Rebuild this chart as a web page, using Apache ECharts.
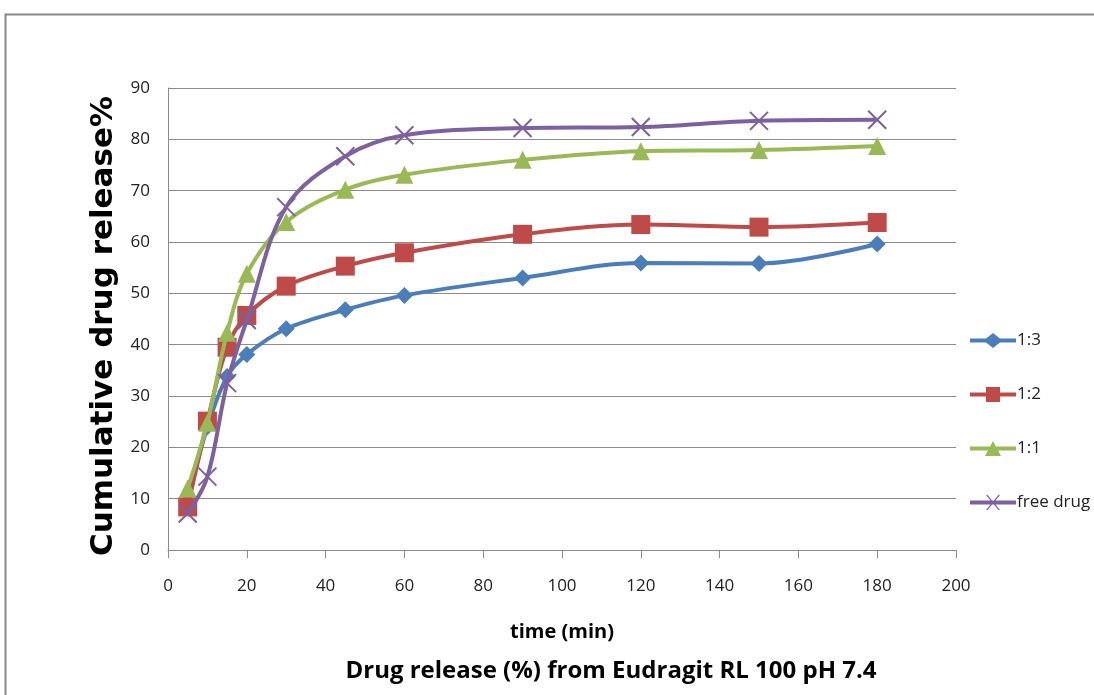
<!DOCTYPE html>
<html><head><meta charset="utf-8">
<script src="https://cdn.jsdelivr.net/npm/echarts@6/dist/echarts.min.js"></script>
<style>html,body{margin:0;padding:0;background:#fff}#c{width:1094px;height:695px}</style>
</head><body><div id="c"></div>
<script>
const times = [5, 10, 15, 20, 30, 45, 60, 90, 120, 150, 180];
const seriesNames = ['1:3', '1:2', '1:1', 'free drug'];
const r13 = [9.5, 24.0, 33.8, 38.1, 43.1, 46.8, 49.6, 53.0, 55.9, 55.8, 59.6];
const r12 = [8.4, 25.1, 39.5, 45.7, 51.4, 55.3, 57.9, 61.5, 63.4, 62.9, 63.8];
const r11 = [12.0, 24.8, 42.3, 53.8, 63.9, 70.2, 73.1, 76.0, 77.7, 77.9, 78.7];
const rFree = [7.1, 14.3, 32.5, 44.8, 66.8, 76.7, 80.8, 82.2, 82.4, 83.6, 83.8];
const xTicks = {min: 0, max: 200, step: 20};
const yTicks = {min: 0, max: 90, step: 10};
const xName = 'time (min)';
const yName = 'Cumulative drug release%';
const titleText = 'Drug release (%) from Eudragit RL 100 pH 7.4';

const colors = ['#4A7EBB', '#BE4B48', '#98B954', '#7D60A0'];
const symbols = ['diamond', 'rect', 'triangle', 'path://M0,0L10,10M10,0L0,10'];
const sizes = [17, 19, 18, 18];
const legendIcons = [
  'path://M0,5.5H16L23,0L30,5.5H46V9.5H30L23,15L16,9.5H0Z',
  'path://M0,5.5H16V0H30V5.5H46V9.5H30V15H16V9.5H0Z',
  'path://M0,5.5H20.1L23,0L25.9,5.5H46V9.5H28.1L31,15H15L17.9,9.5H0Z',
  'path://M0,5.5H46V9.5H0Z M16,0L17.6,0L30,15L28.4,15Z M28.4,0L30,0L17.6,15L16,15Z'
];
const values = [r13, r12, r11, rFree];

const chart = echarts.init(document.getElementById('c'), null, {renderer: 'canvas'});
const series = seriesNames.map((n, i) => ({
  name: n,
  type: 'line',
  smooth: 0.35,
  data: times.map((t, j) => [t, values[i][j]]),
  symbol: symbols[i],
  symbolSize: sizes[i],
  showAllSymbol: true,
  lineStyle: {color: colors[i], width: 4},
  itemStyle: i === 3 ? {color: colors[i], borderColor: colors[i], borderWidth: 2} : {color: colors[i]},
  z: 2 + i
}));

chart.setOption({
  animation: false,
  backgroundColor: '#fff',
  graphic: [{type: 'rect', shape: {x: 5.5, y: 14.5, width: 1200, height: 800}, style: {fill: 'none', stroke: '#888', lineWidth: 2}, silent: true}],
  title: {text: titleText, left: 606, top: 654, textAlign: 'center',
    textStyle: {fontFamily: 'Open Sans', fontWeight: 'bold', fontSize: 24, color: '#000'}},
  grid: {left: 168, right: 138, top: 88, bottom: 145, containLabel: false},
  legend: {
    orient: 'vertical', left: 965, top: 327, itemGap: 37, itemWidth: 46, itemHeight: 15,
    textStyle: {fontFamily: 'Open Sans', fontSize: 17, color: '#222', padding: [0, 0, 0, -4]},
    data: seriesNames.map((n, i) => ({name: n, icon: legendIcons[i], itemStyle: {color: colors[i], borderWidth: 0}}))
  },
  xAxis: {
    type: 'value', min: xTicks.min, max: xTicks.max, interval: xTicks.step,
    name: xName, nameLocation: 'middle', nameGap: 72,
    nameTextStyle: {fontFamily: 'Open Sans', fontWeight: 'bold', fontSize: 20, color: '#000'},
    axisLine: {lineStyle: {color: '#8c8c8c', width: 1}},
    axisTick: {show: true, length: 8, lineStyle: {color: '#8c8c8c'}},
    axisLabel: {fontFamily: 'Open Sans', fontSize: 17, color: '#222', margin: 28},
    splitLine: {show: false}
  },
  yAxis: {
    type: 'value', min: yTicks.min, max: yTicks.max, interval: yTicks.step,
    name: yName, nameLocation: 'middle', nameGap: 38,
    nameTextStyle: {fontFamily: 'DejaVu Sans', fontWeight: 'bold', fontSize: 31, color: '#000', padding: [0, 14, 0, 0]},
    axisLine: {show: true, lineStyle: {color: '#8c8c8c', width: 1}},
    axisTick: {show: false},
    axisLabel: {fontFamily: 'Open Sans', fontSize: 17, color: '#222', margin: 18},
    splitLine: {show: true, lineStyle: {color: '#8c8c8c', width: 1}}
  },
  series: series
});
</script></body></html>
